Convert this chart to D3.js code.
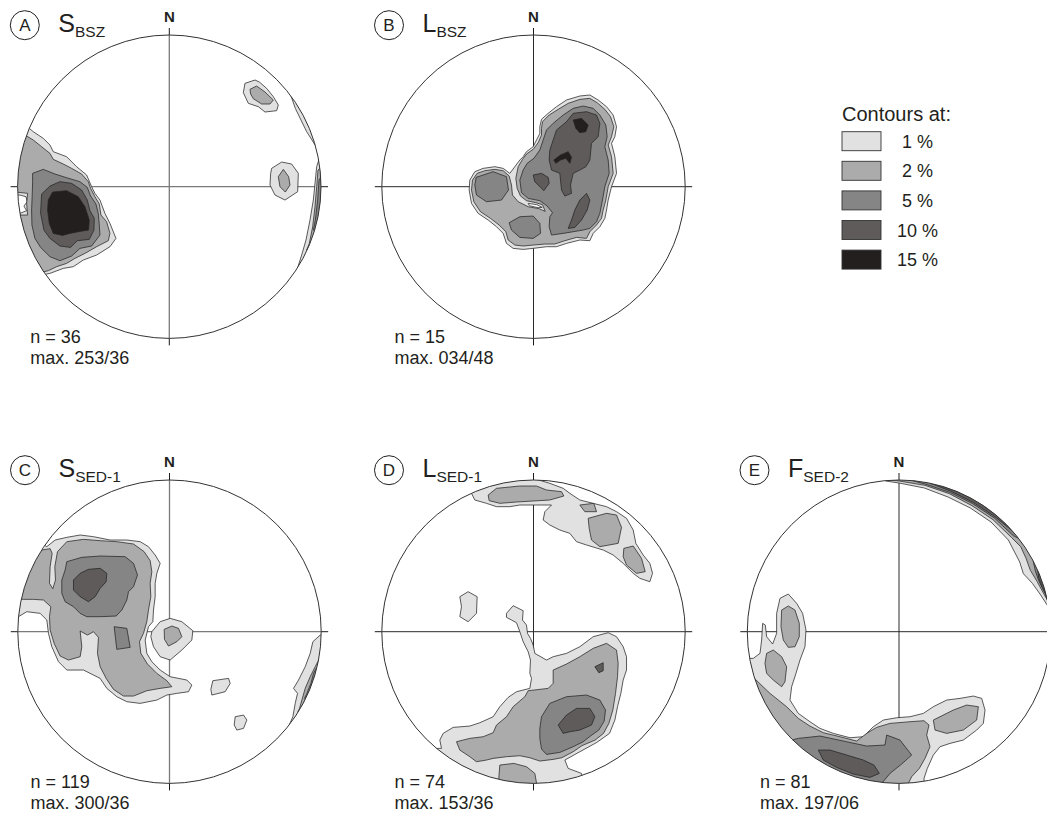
<!DOCTYPE html>
<html><head><meta charset="utf-8">
<script src="https://cdn.jsdelivr.net/npm/d3@7"></script>
<style>
body{margin:0;background:#fff}
svg{display:block}
text{font-family:"Liberation Sans",Arial,Helvetica,sans-serif;fill:#231f20}
</style>
</head><body>
<svg id="chart" width="1047" height="816"></svg>
<script>
// ---- data: contour polygons in net units (primitive radius = 455, x east, y south) ----
const NET_R = 455;
const levelKeys = ["c1", "c0", "c2", "c5", "c10", "c15"];
const legendLabels = ["1 %", "2 %", "5 %", "10 %", "15 %"];

// Panel A  S_BSZ
const A_c1 = [
 [[-420,-175],[-408,-165],[-378,-145],[-358,-125],[-348,-105],[-308,-90],[-278,-60],[-248,-35],[-233,0],[-223,20],[-208,40],[-193,80],[-178,110],[-160,155],[-178,180],[-218,205],[-258,220],[-288,240],[-318,245],[-358,260],[-368,262],[-480,300],[-480,-200]],
 [[227,-310],[257,-320],[270,-314],[292,-295],[312,-270],[327,-245],[322,-228],[287,-224],[267,-240],[237,-250],[222,-282]],
 [[307,-55],[337,-74],[367,-68],[387,-40],[385,15],[347,40],[317,25],[302,-5],[304,-40]],
 [[365,-272],[378,-235],[395,-200],[412,-165],[428,-140],[437,-125],[520,-125],[520,-272]],
 [[450,-85],[442,-60],[438,-20],[432,40],[422,100],[410,160],[397,205],[386,240],[520,240],[520,-85]]
];
const A_c0 = [[[-448,25],[-430,30],[-426,45],[-436,58],[-428,72],[-448,80],[-470,80],[-470,25]]];
const A_c2 = [
 [[-433,-155],[-408,-140],[-383,-120],[-358,-100],[-348,-82],[-318,-68],[-293,-55],[-263,-38],[-243,-15],[-236,5],[-223,30],[-210,52],[-205,85],[-188,105],[-178,140],[-183,162],[-218,180],[-253,200],[-283,215],[-308,230],[-338,240],[-363,252],[-480,280],[-470,85],[-425,85],[-428,50],[-425,20],[-470,15],[-480,-160]],
 [[242,-292],[262,-302],[287,-284],[312,-260],[302,-248],[277,-248],[252,-264],[244,-278]],
 [[327,-30],[342,-52],[358,-30],[362,-5],[348,16],[332,0]],
 [[452,-55],[446,-50],[442,0],[437,60],[430,120],[420,170],[412,190],[520,190],[520,-55]]
];
const A_c5 = [
 [[-410,-40],[-378,-52],[-343,-38],[-308,-27],[-268,-15],[-246,2],[-236,28],[-220,52],[-213,80],[-210,115],[-208,145],[-233,178],[-268,185],[-293,208],[-328,222],[-358,210],[-386,182],[-403,155],[-412,115],[-413,70],[-411,20],[-410,-15]],
 [[455,-30],[449,-20],[445,40],[438,100],[432,130],[436,132],[520,130],[520,-30]]
];
const A_c10 = [[[-383,22],[-358,-2],[-328,-15],[-293,-10],[-263,10],[-246,40],[-238,72],[-225,95],[-226,130],[-240,158],[-276,162],[-296,182],[-328,178],[-358,155],[-376,130],[-386,80]]];
const A_c15 = [[[-363,40],[-350,16],[-308,12],[-273,30],[-253,60],[-240,100],[-242,130],[-268,134],[-298,140],[-320,146],[-348,140],[-360,110],[-365,70]]];

// Panel B  L_BSZ
const B_c1 = [[[24,-202],[44,-220],[69,-240],[99,-260],[139,-272],[169,-275],[194,-260],[219,-240],[239,-215],[249,-180],[244,-150],[234,-130],[244,-90],[249,-40],[234,0],[224,40],[219,70],[214,95],[199,120],[179,140],[169,162],[139,160],[99,170],[69,180],[39,180],[-1,185],[-31,188],[-61,185],[-81,170],[-91,140],[-111,120],[-136,100],[-166,80],[-186,50],[-193,10],[-191,-20],[-176,-45],[-151,-55],[-116,-60],[-91,-55],[-71,-40],[-56,-60],[-41,-80],[-31,-90],[-21,-105],[-1,-120],[9,-140],[19,-160],[19,-180]]];
const B_c0 = [[[-16,50],[10,54],[26,62],[14,63],[-12,57]]];
const B_c2 = [[[27,-195],[47,-215],[74,-232],[104,-250],[139,-262],[169,-265],[191,-252],[214,-232],[231,-210],[241,-180],[234,-150],[224,-125],[234,-90],[239,-40],[224,0],[217,40],[209,70],[204,95],[189,115],[169,135],[159,155],[129,152],[94,162],[64,172],[34,172],[-1,175],[-31,178],[-56,175],[-76,160],[-83,135],[-103,115],[-129,95],[-159,75],[-179,45],[-186,10],[-183,-20],[-169,-40],[-146,-48],[-116,-52],[-91,-48],[-73,-32],[-66,-5],[-63,25],[-46,45],[-16,60],[17,66],[35,74],[27,54],[7,48],[-21,42],[-39,28],[-49,5],[-53,-25],[-46,-60],[-33,-82],[-21,-98],[-1,-112],[14,-132],[24,-155],[24,-175]]];
const B_c5 = [
 [[39,-170],[59,-190],[89,-215],[119,-235],[149,-242],[179,-235],[199,-215],[217,-185],[221,-150],[214,-120],[224,-80],[227,-40],[214,0],[207,40],[199,80],[189,105],[169,125],[149,130],[119,135],[89,140],[54,145],[47,120],[49,90],[57,78],[41,58],[19,42],[-16,35],[-36,18],[-41,-20],[-31,-50],[-19,-70],[1,-85],[19,-110],[29,-140]],
 [[-172,-28],[-121,-45],[-81,-30],[-75,10],[-96,40],[-141,45],[-171,25],[-176,-5]],
 [[-73,108],[-41,90],[-1,88],[19,110],[21,140],[-1,155],[-41,152],[-66,130]]
];
const B_c10 = [
 [[69,-170],[99,-195],[119,-220],[159,-225],[189,-215],[199,-190],[194,-150],[174,-130],[169,-80],[157,-60],[139,-50],[119,-40],[111,-5],[114,20],[94,28],[84,10],[81,-20],[79,-40],[54,-50],[47,-80],[49,-110],[59,-140]],
 [[-1,-35],[24,-40],[44,-28],[47,-10],[31,12],[17,-2],[4,-15]],
 [[159,20],[169,40],[161,70],[144,100],[124,122],[104,125],[114,100],[124,70],[139,40]]
];
const B_c15 = [
 [[119,-200],[144,-205],[164,-185],[157,-165],[139,-162],[127,-175]],
 [[61,-80],[81,-95],[104,-105],[114,-88],[109,-70],[97,-85],[81,-80],[67,-70]]
];

// Panel C  S_SED-1
const C_c1 = [
 [[-368,-255],[-343,-275],[-308,-283],[-268,-290],[-228,-285],[-178,-275],[-128,-275],[-88,-270],[-63,-255],[-43,-230],[-28,-205],[-38,-175],[-43,-145],[-43,-105],[-48,-65],[-50,-30],[-63,-15],[-73,25],[-68,65],[-53,90],[-28,115],[2,135],[52,145],[67,160],[57,180],[22,185],[-8,190],[-38,205],[-88,215],[-128,210],[-158,195],[-188,170],[-208,140],[-258,115],[-308,115],[-333,90],[-353,45],[-363,5],[-368,-35],[-388,-55],[-428,-60],[-453,-45],[-490,-45],[-490,-280],[-420,-290]],
 [[-53,0],[-28,-30],[2,-40],[37,-30],[70,-3],[67,25],[37,55],[2,85],[-28,75],[-48,45],[-56,15]],
 [[130,147],[177,140],[182,155],[167,180],[127,190],[124,173]],
 [[197,255],[222,250],[232,265],[222,290],[202,295],[194,280]],
 [[452,10],[430,30],[422,65],[407,105],[387,145],[372,170],[384,185],[377,215],[370,255],[360,278],[500,300],[520,10]]
];
const C_c2 = [
 [[-428,-245],[-383,-245],[-358,-249],[-352,-235],[-358,-195],[-360,-145],[-350,-129],[-342,-155],[-344,-195],[-336,-240],[-308,-270],[-258,-277],[-208,-273],[-158,-270],[-108,-263],[-76,-240],[-58,-213],[-53,-180],[-58,-145],[-56,-105],[-63,-65],[-68,-30],[-78,5],[-90,30],[-86,65],[-66,97],[-38,125],[-8,147],[7,165],[-28,170],[-68,177],[-108,193],[-138,193],[-168,173],[-190,140],[-208,105],[-216,65],[-213,17],[-228,0],[-246,10],[-268,-2],[-263,45],[-268,75],[-303,85],[-328,73],[-346,35],[-358,-5],[-360,-45],[-356,-75],[-378,-95],[-408,-97],[-438,-97],[-468,-97]],
 [[-16,-7],[7,-17],[27,-10],[37,15],[22,30],[-3,43],[-15,23]],
 [[450,80],[437,105],[422,135],[407,170],[397,205],[390,230],[385,240],[480,250],[480,80]]
];
const C_c5 = [
 [[-308,-210],[-263,-223],[-208,-227],[-133,-225],[-108,-205],[-96,-170],[-108,-135],[-123,-120],[-128,-95],[-143,-65],[-160,-47],[-208,-45],[-248,-45],[-268,-55],[-288,-75],[-313,-90],[-323,-115],[-323,-155],[-313,-185]],
 [[-166,-15],[-128,-10],[-118,47],[-158,53]],
 [[440,110],[432,125],[424,155],[412,185],[405,200],[480,200],[480,110]]
];
const C_c10 = [[[-288,-155],[-268,-175],[-243,-187],[-208,-190],[-188,-175],[-190,-150],[-208,-130],[-223,-105],[-243,-90],[-268,-105],[-288,-125]]];

// Panel D  L_SED-1
const D_c1 = [
 [[-176,-395],[-141,-385],[-111,-375],[-71,-375],[-41,-380],[-1,-380],[24,-380],[54,-380],[34,-360],[29,-335],[49,-320],[79,-305],[109,-295],[129,-270],[159,-260],[209,-245],[239,-230],[269,-205],[299,-175],[319,-160],[349,-150],[357,-175],[349,-205],[329,-230],[307,-265],[299,-305],[279,-340],[249,-360],[219,-375],[179,-385],[139,-395],[109,-415],[89,-430],[49,-445],[-1,-460],[-181,-460],[-186,-415]],
 [[-221,-105],[-196,-120],[-169,-105],[-171,-55],[-196,-30],[-221,-45],[-216,-75]],
 [[-81,-55],[-61,-78],[-31,-63],[-33,-35],[-21,-20],[-18,5],[-9,20],[-1,40],[4,65],[39,85],[59,75],[99,65],[139,45],[179,15],[224,3],[249,15],[269,45],[279,75],[279,115],[269,145],[262,185],[252,225],[244,265],[228,305],[190,332],[139,360],[94,385],[104,410],[144,425],[159,485],[-281,485],[-321,350],[-276,350],[-281,325],[-271,305],[-241,287],[-191,283],[-161,273],[-121,255],[-101,225],[-76,197],[-51,180],[-11,170],[-6,140],[-11,125],[-9,85],[-16,60],[-31,30],[-41,0],[-51,-27],[-66,-35],[-81,-43]]
];
const D_c2 = [
 [[-136,-410],[-111,-430],[-41,-437],[9,-437],[39,-425],[84,-420],[91,-407],[49,-395],[-1,-392],[-51,-389],[-101,-385],[-133,-393]],
 [[139,-380],[181,-385],[189,-360],[154,-360]],
 [[164,-340],[219,-355],[249,-350],[264,-313],[254,-265],[199,-255],[174,-275],[167,-310]],
 [[271,-250],[299,-257],[324,-220],[335,-180],[309,-175],[279,-200],[269,-225]],
 [[-231,330],[-191,320],[-151,315],[-121,303],[-111,280],[-81,255],[-61,225],[-26,195],[-16,177],[44,170],[59,155],[59,115],[99,97],[139,75],[179,50],[219,35],[249,55],[254,95],[252,135],[246,185],[238,235],[226,275],[210,305],[185,325],[145,342],[119,360],[85,378],[59,383],[19,388],[-11,378],[-41,372],[-81,375],[-121,380],[-141,385],[-171,390],[-191,375],[-221,355]],
 [[-101,400],[-59,395],[-21,405],[4,425],[11,465],[-106,465]]
];
const D_c5 = [[[24,255],[49,215],[99,195],[159,190],[199,205],[216,235],[212,268],[196,295],[172,312],[149,330],[119,345],[79,362],[39,368],[24,352],[19,320],[19,290]]];
const D_c10 = [
 [[74,280],[99,250],[129,230],[169,230],[184,255],[174,280],[139,295],[109,300],[89,305]],
 [[184,105],[209,93],[209,117],[196,123]]
];

// Panel E  F_SED-2
const E_c1 = [
 [[-40,-452],[0,-446],[76,-431],[147,-404],[214,-371],[276,-329],[328,-275],[362,-209],[373,-174],[400,-145],[423,-113],[445,-79],[520,-60],[520,-540],[-45,-540]],
 [[-437,80],[-417,65],[-412,25],[-409,-25],[-401,-20],[-397,15],[-379,37],[-367,5],[-367,-55],[-357,-100],[-332,-113],[-307,-85],[-289,-55],[-279,-5],[-282,45],[-297,85],[-309,125],[-322,165],[-327,205],[-302,245],[-267,270],[-237,290],[-197,305],[-147,318],[-107,315],[-77,285],[-47,265],[-7,258],[33,255],[73,245],[103,225],[143,205],[183,200],[223,193],[248,200],[258,235],[253,275],[233,295],[193,325],[153,335],[123,345],[103,370],[85,410],[75,440],[80,520],[-520,400],[-520,80]]
];
const E_c2 = [
 [[-24,-454],[0,-452],[78,-439],[151,-414],[219,-378],[282,-336],[337,-283],[365,-255],[381,-220],[394,-184],[414,-151],[433,-116],[445,-95],[520,-80],[520,-540],[-30,-540]],
 [[-352,-65],[-332,-77],[-312,-65],[-299,-25],[-299,15],[-312,45],[-332,47],[-347,25],[-354,-15]],
 [[-397,65],[-377,55],[-352,75],[-337,105],[-342,150],[-352,165],[-377,145],[-397,125],[-402,95]],
 [[-520,120],[-437,137],[-387,185],[-337,225],[-302,260],[-267,283],[-227,303],[-177,315],[-127,328],[-97,305],[-67,287],[-27,275],[33,270],[75,267],[90,280],[83,310],[93,345],[78,380],[61,410],[38,435],[23,465],[-200,520],[-520,300]],
 [[103,265],[163,235],[203,220],[238,225],[233,265],[193,295],[143,305],[108,295]]
];
const E_c5 = [
 [[40,-453],[78,-443],[152,-418],[221,-384],[286,-341],[343,-288],[358,-280],[430,-330],[250,-500],[40,-540]],
 [[402,-214],[409,-182],[419,-153],[437,-117],[446,-95],[520,-100],[480,-250]],
 [[-302,320],[-237,313],[-157,330],[-97,343],[-42,340],[-37,310],[3,325],[38,370],[8,397],[-27,425],[-52,455],[-60,520],[-380,340]]
];
const E_c10 = [
 [[95,-445],[154,-422],[224,-387],[289,-344],[338,-304],[400,-380],[100,-540]],
 [[416,-185],[419,-161],[430,-132],[442,-110],[520,-110],[480,-220]],
 [[-242,355],[-207,355],[-157,370],[-107,385],[-75,400],[-59,425],[-87,437],[-137,427],[-187,407],[-227,385]]
];

// panel texts
const panelIds = ["A", "B", "C", "D", "E"];
const panelSymbols = ["S", "L", "S", "L", "F"];
const panelSubs = ["BSZ", "BSZ", "SED-1", "SED-1", "SED-2"];
const panelN = [36, 15, 119, 74, 81];
const panelMax = ["253/36", "034/48", "300/36", "153/36", "197/06"];
const panelContours = [
 {c1:A_c1, c0:A_c0, c2:A_c2, c5:A_c5, c10:A_c10, c15:A_c15},
 {c1:B_c1, c0:B_c0, c2:B_c2, c5:B_c5, c10:B_c10, c15:B_c15},
 {c1:C_c1, c2:C_c2, c5:C_c5, c10:C_c10},
 {c1:D_c1, c2:D_c2, c5:D_c5, c10:D_c10},
 {c1:E_c1, c2:E_c2, c5:E_c5, c10:E_c10}
];

// ---- layout & style ----
const R = 151.7;
const centers = [[169.3,186.7],[533.5,186.7],[169.5,631.7],[533.5,631.7],[899,631.7]];
const crossColors = ["#7a7a7a", "#2a2a2a", "#7a7a7a", "#2a2a2a", "#2a2a2a"];
const crossWidths = [1.3, 1, 1.3, 1, 1];
const fills = {c0:"#ffffff", c1:"#e1e1e1", c2:"#ababab", c5:"#858585", c10:"#5f5b5a", c15:"#231f1e"};
const legendFills = [fills.c1, fills.c2, fills.c5, fills.c10, fills.c15];
const ink = "#231f20";

const svg = d3.select("#chart");
const defs = svg.append("defs");

panelIds.forEach((id, i) => {
  const [cx, cy] = centers[i];
  const x = d3.scaleLinear().domain([-NET_R, NET_R]).range([cx - R, cx + R]);
  const y = d3.scaleLinear().domain([-NET_R, NET_R]).range([cy - R, cy + R]);
  const g = svg.append("g");

  defs.append("clipPath").attr("id", "clip" + id)
    .append("circle").attr("cx", cx).attr("cy", cy).attr("r", R);

  // outside ticks (black)
  [[x(-NET_R) - 7, y(0), x(-NET_R), y(0)], [x(NET_R), y(0), x(NET_R) + 7, y(0)],
   [x(0), y(-NET_R) - 7, x(0), y(-NET_R)], [x(0), y(NET_R), x(0), y(NET_R) + 7]].forEach(s => {
    g.append("line").attr("x1", s[0]).attr("y1", s[1]).attr("x2", s[2]).attr("y2", s[3])
      .attr("stroke", "#1a1a1a").attr("stroke-width", 1);
  });
  // inner cross
  g.append("line").attr("x1", x(-NET_R)).attr("x2", x(NET_R))
    .attr("y1", y(0)).attr("y2", y(0)).attr("stroke", crossColors[i]).attr("stroke-width", crossWidths[i]);
  g.append("line").attr("x1", x(0)).attr("x2", x(0))
    .attr("y1", y(-NET_R)).attr("y2", y(NET_R)).attr("stroke", crossColors[i]).attr("stroke-width", crossWidths[i]);

  const cg = g.append("g").attr("clip-path", `url(#clip${id})`);
  const line = d3.line().x(d => x(d[0])).y(d => y(d[1])).curve(d3.curveLinearClosed);
  levelKeys.forEach(k => {
    (panelContours[i][k] || []).forEach(poly => {
      cg.append("path").attr("d", line(poly))
        .attr("fill", fills[k]).attr("stroke", "#262626").attr("stroke-width", 0.75)
        .attr("stroke-linejoin", "round");
    });
  });

  g.append("circle").attr("cx", cx).attr("cy", cy).attr("r", R)
    .attr("fill", "none").attr("stroke", "#333").attr("stroke-width", 1);

  // N
  g.append("text").attr("x", x(0)).attr("y", cy - R - 13)
    .attr("text-anchor", "middle").attr("font-weight", "bold").attr("font-size", 15).text("N");

  // panel letter
  g.append("circle").attr("cx", cx - 144.5).attr("cy", cy - 161.5).attr("r", 14.5)
    .attr("fill", "none").attr("stroke", ink).attr("stroke-width", 1);
  g.append("text").attr("x", cx - 144.5).attr("y", cy - 161.5 + 6)
    .attr("text-anchor", "middle").attr("font-size", 17).text(id);

  // title
  const t = g.append("text").attr("x", cx - 111).attr("y", cy - 155);
  t.append("tspan").attr("font-size", 25).text(panelSymbols[i]);
  t.append("tspan").attr("font-size", 15.5).attr("dy", 5).text(panelSubs[i]);

  // stats
  g.append("text").attr("x", cx - 139).attr("y", cy + 156.6).attr("font-size", 18)
    .text("n = " + panelN[i]);
  g.append("text").attr("x", cx - 139).attr("y", cy + 177.3).attr("font-size", 18)
    .text("max. " + panelMax[i]);
});

// legend
const lg = svg.append("g");
lg.append("text").attr("x", 842).attr("y", 120.7).attr("font-size", 20).text("Contours at:");
const ly = d3.scaleLinear().domain([0, 1]).range([131.7, 161.3]);
legendLabels.forEach((lab, i) => {
  lg.append("rect").attr("x", 842).attr("y", ly(i)).attr("width", 39).attr("height", 19)
    .attr("fill", legendFills[i]).attr("stroke", "#333").attr("stroke-width", 0.9);
  lg.append("text").attr("x", 917.5).attr("y", ly(i) + 16).attr("text-anchor", "middle")
    .attr("font-size", 18).text(lab);
});
</script>
</body></html>
